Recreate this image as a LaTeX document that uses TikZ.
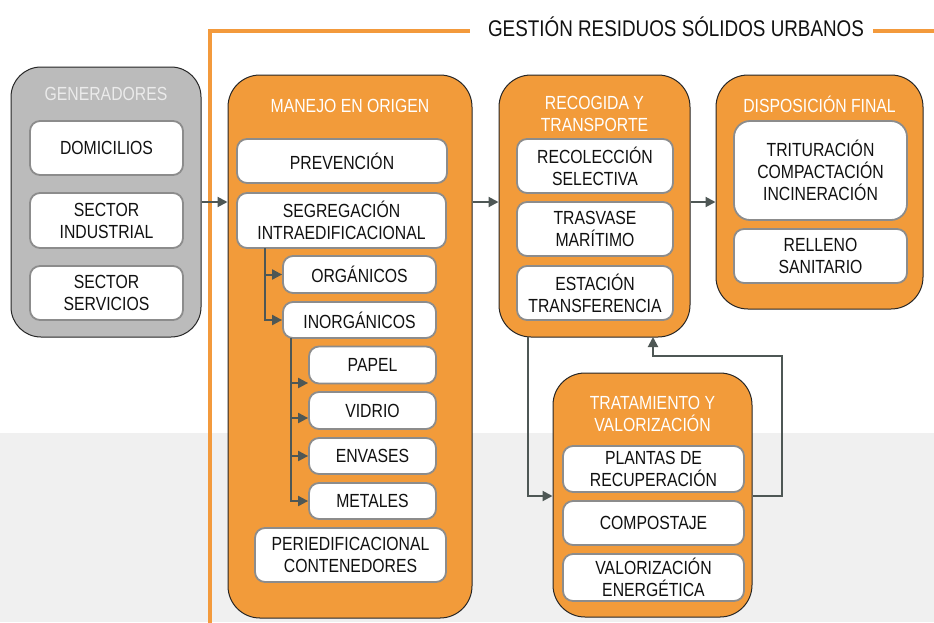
\documentclass[tikz,border=0pt]{standalone}
\usepackage{fontspec}
\setmainfont{Liberation Sans}[FakeStretch=0.83]
\usetikzlibrary{arrows.meta}
\definecolor{orfill}{HTML}{F29B3A}
\definecolor{orline}{HTML}{F39A3C}
\definecolor{gryfill}{HTML}{BBBBBB}
\definecolor{bgband}{HTML}{F0F0F0}
\definecolor{inborder}{HTML}{8C8C8C}
\definecolor{conncol}{HTML}{4E5755}
\definecolor{txtdark}{HTML}{111111}
\newcommand\boxfont{\fontsize{19}{22}\selectfont}
\begin{document}
\begin{tikzpicture}[x=1pt,y=-1pt,
  obox/.style={draw=black!85, line width=1pt, fill=orfill, rounded corners=32pt, inner sep=0pt},
  gbox/.style={draw=black!85, line width=1pt, fill=gryfill, rounded corners=30pt, inner sep=0pt},
  ibox/.style={draw=inborder, line width=1.8pt, fill=white, rounded corners=10pt, inner sep=0pt, font=\boxfont, align=center, text=txtdark},
  hdr/.style={font=\boxfont, align=center, text=white, inner sep=0pt},
  conn/.style={draw=conncol, line width=2pt, -{Triangle[length=10pt,width=10pt]}},
  frame/.style={draw=orline, line width=4pt}
]
\useasboundingbox (0,0) rectangle (934,622);
\fill[white] (0,0) rectangle (934,433);
\fill[bgband] (0,433) rectangle (934,622);

% title frame
\node[font=\fontsize{22.7}{26}\selectfont, text=txtdark, inner sep=0pt] (title) at (676,27) {GESTIÓN RESIDUOS SÓLIDOS URBANOS};
\coordinate (fl) at (470,31);
\coordinate (fr) at (873,31);
\draw[frame] (210,624) -- (210,31) -- (fl);
\draw[frame] (fr) -- (936,31);

% GENERADORES
\node[gbox, minimum width=190pt, minimum height=270pt] (gen) at (106,202) {};
\node[hdr, text=white!92!black] (genh) at (106,94) {GENERADORES};
\node[ibox, minimum width=153pt, minimum height=54pt] (dom) at (106.5,148) {DOMICILIOS};
\node[ibox, minimum width=153pt, minimum height=55pt] (ind) at (106.5,220.5) {SECTOR\\INDUSTRIAL};
\node[ibox, minimum width=153pt, minimum height=54pt] (serv) at (106.5,293) {SECTOR\\SERVICIOS};

% MANEJO EN ORIGEN
\node[obox, minimum width=244pt, minimum height=543pt] (man) at (350,346.5) {};
\node[hdr] (manh) at (350,106) {MANEJO EN ORIGEN};
\node[ibox, minimum width=210pt, minimum height=44pt] (prev) at (342,161) {PREVENCIÓN};
\node[ibox, minimum width=209pt, minimum height=55pt] (seg) at (341.5,220.5) {SEGREGACIÓN\\INTRAEDIFICACIONAL};
\node[ibox, minimum width=153pt, minimum height=37pt] (orgn) at (359.5,274.5) {ORGÁNICOS};
\node[ibox, minimum width=153pt, minimum height=36pt] (inorg) at (359.5,320) {INORGÁNICOS};
\node[ibox, minimum width=127pt, minimum height=37pt] (papel) at (372.5,365) {PAPEL};
\node[ibox, minimum width=127pt, minimum height=37pt] (vidrio) at (372.5,410.5) {VIDRIO};
\node[ibox, minimum width=127pt, minimum height=36pt] (envases) at (372.5,456) {ENVASES};
\node[ibox, minimum width=127pt, minimum height=36pt] (metales) at (372.5,501) {METALES};
\node[ibox, minimum width=191pt, minimum height=54pt] (peri) at (350.5,555) {PERIEDIFICACIONAL\\CONTENEDORES};

% RECOGIDA Y TRANSPORTE
\node[obox, minimum width=191pt, minimum height=262pt] (rec) at (594.5,206) {};
\node[hdr] (rech) at (594.5,114) {RECOGIDA Y\\TRANSPORTE};
\node[ibox, minimum width=156pt, minimum height=54pt] (recsel) at (595,166) {RECOLECCIÓN\\SELECTIVA};
\node[ibox, minimum width=156pt, minimum height=54pt] (tras) at (595,229) {TRASVASE\\MARÍTIMO};
\node[ibox, minimum width=156pt, minimum height=54pt] (est) at (595,293) {ESTACIÓN\\TRANSFERENCIA};

% DISPOSICION FINAL
\node[obox, minimum width=207pt, minimum height=234pt] (disp) at (819.5,192) {};
\node[hdr] (disph) at (819.5,104) {DISPOSICIÓN FINAL};
\node[ibox, minimum width=173pt, minimum height=99pt, rounded corners=16pt] (trit) at (820.5,170.5) {TRITURACIÓN\\COMPACTACIÓN\\INCINERACIÓN};
\node[ibox, minimum width=173pt, minimum height=54pt] (rell) at (820.5,256) {RELLENO\\SANITARIO};

% TRATAMIENTO Y VALORIZACION
\node[obox, minimum width=199pt, minimum height=244pt] (trat) at (652.5,495) {};
\node[hdr] (trath) at (652.5,414) {TRATAMIENTO Y\\VALORIZACIÓN};
\node[ibox, minimum width=181pt, minimum height=46pt] (plantas) at (653.5,469) {PLANTAS DE\\RECUPERACIÓN};
\node[ibox, minimum width=181pt, minimum height=44pt] (comp) at (653.5,523) {COMPOSTAJE};
\node[ibox, minimum width=181pt, minimum height=47pt] (valor) at (653.5,577.5) {VALORIZACIÓN\\ENERGÉTICA};

% main flow
\draw[conn] (gen.east) -- (gen.east -| man.west);
\draw[conn] (man.east |- gen.east) -- (rec.west |- gen.east);
\draw[conn] (rec.east |- gen.east) -- (disp.west |- gen.east);

% segregation tree
\coordinate (s1) at (265,248);
\draw[conn] (s1) |- (orgn.west);
\draw[conn] (s1) |- (inorg.west);
\coordinate (s2) at (291,338);
\draw[conn] (s2) |- ([yshift=-18pt]papel.west);
\draw[conn] (s2) |- ([yshift=-7.5pt]vidrio.west);
\draw[conn] (s2) |- (envases.west);
\draw[conn] (s2) |- (metales.west);

% recogida <-> tratamiento
\coordinate (r0) at (528,337);
\draw[conn] (r0) |- (trat.west |- 0,496);
\coordinate (r1) at (782,496);
\coordinate (r2) at (782,356);
\coordinate (r3) at (653,337);
\draw[conn] (trat.east |- r1) -- (r1) -- (r2) -| (r3);
\end{tikzpicture}
\end{document}
